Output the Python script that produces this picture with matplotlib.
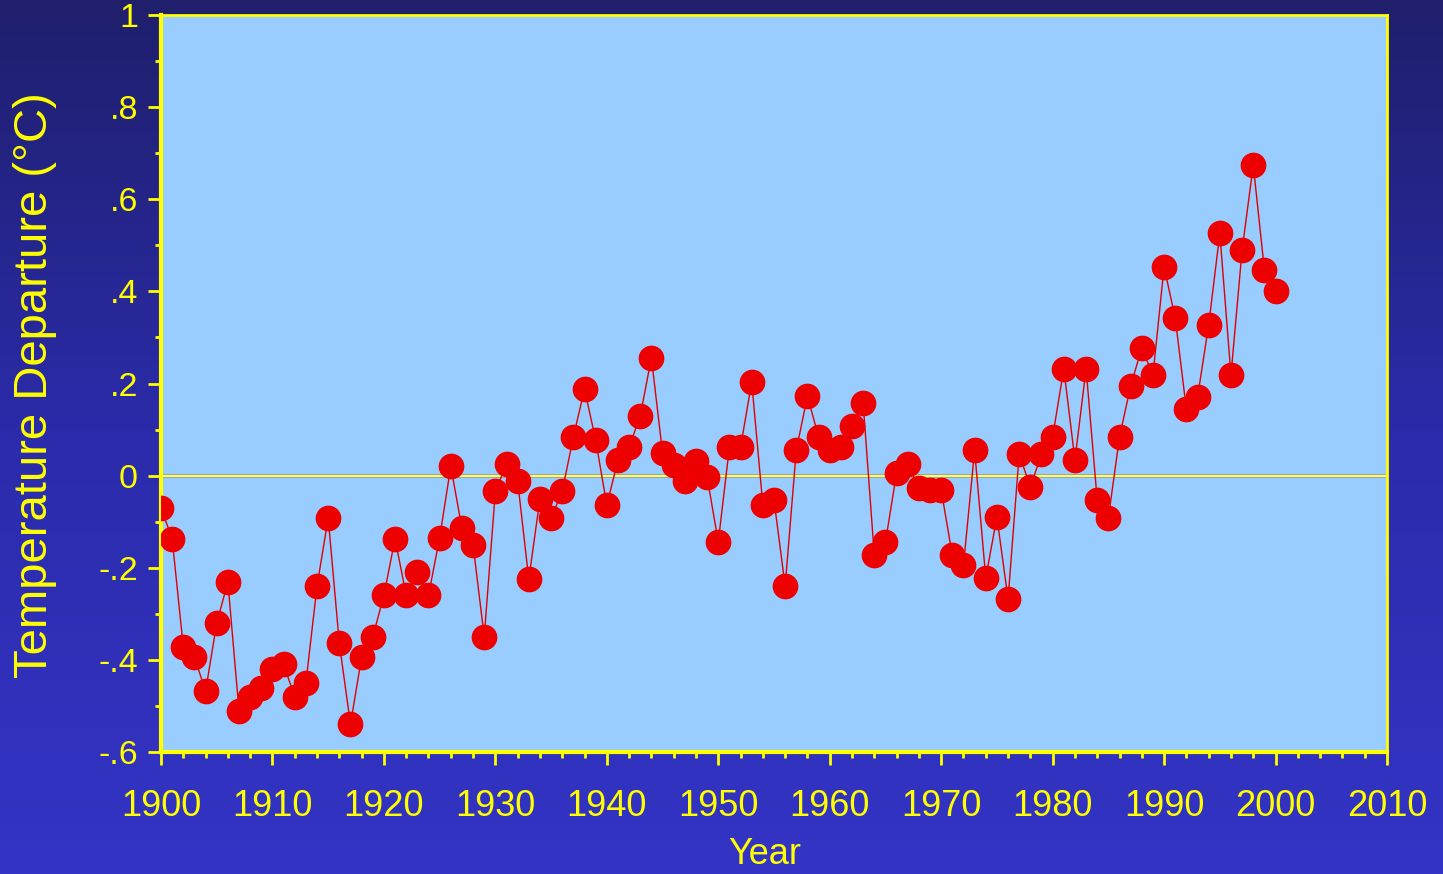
import numpy as np
import matplotlib
matplotlib.use("Agg")
import matplotlib.pyplot as plt
from matplotlib.colors import LinearSegmentedColormap
from matplotlib.ticker import MultipleLocator, FixedLocator

plt.rcParams["font.family"] = ["Liberation Sans", "DejaVu Sans"]

years = np.arange(1900, 2001)
departure = [
    -0.07, -0.137, -0.372, -0.394, -0.468, -0.32, -0.231, -0.511, -0.48, -0.46,
    -0.42, -0.41, -0.48, -0.45, -0.24, -0.092, -0.364, -0.54, -0.394, -0.35,
    -0.26, -0.137, -0.26, -0.21, -0.26, -0.135, 0.02, -0.114, -0.15, -0.35,
    -0.034, 0.025, -0.012, -0.225, -0.05, -0.092, -0.034, 0.084, 0.188, 0.077,
    -0.064, 0.034, 0.062, 0.13, 0.256, 0.049, 0.024, -0.012, 0.031, -0.003,
    -0.144, 0.062, 0.062, 0.203, -0.064, -0.053, -0.24, 0.055, 0.173, 0.084,
    0.055, 0.062, 0.108, 0.157, -0.173, -0.144, 0.006, 0.025, -0.027, -0.031,
    -0.031, -0.173, -0.195, 0.055, -0.222, -0.09, -0.268, 0.047, -0.025, 0.047,
    0.084, 0.232, 0.034, 0.232, -0.053, -0.092, 0.084, 0.195, 0.277, 0.218,
    0.453, 0.342, 0.144, 0.17, 0.327, 0.526, 0.218, 0.49, 0.674, 0.447,
    0.401,
]
ytick_vals = [-0.6, -0.4, -0.2, 0, 0.2, 0.4, 0.6, 0.8, 1.0]
ytick_labels = ["-.6", "-.4", "-.2", "0", ".2", ".4", ".6", ".8", "1"]
xtick_vals = list(range(1900, 2011, 10))

yellow = "#ffff00"

fig = plt.figure(figsize=(14.43, 8.74), dpi=100)

# background gradient
bg = fig.add_axes([0, 0, 1, 1], zorder=-10)
cmap = LinearSegmentedColormap.from_list("bg", ["#1f1f6c", "#2b2bab", "#3434c6"])
grad = np.linspace(0, 1, 256).reshape(-1, 1)
bg.imshow(grad, aspect="auto", cmap=cmap, extent=[0, 1, 0, 1], origin="upper")
bg.axis("off")

ax = fig.add_axes([161 / 1443, 1 - 752 / 874, 1226 / 1443, 737 / 874])
ax.set_facecolor("#99ccff")

ax.axhline(0, color="#a0a080", lw=2.6, zorder=1)
ax.axhline(0, color="#ffff66", lw=1.4, zorder=1)
ax.plot(years, departure, color="#e00000", lw=1, zorder=2)
ax.plot(years, departure, "o", color="#ee0000", markersize=17.5, zorder=3)

ax.set_xlim(1900, 2010)
ax.set_ylim(-0.6, 1.0)

ax.xaxis.set_major_locator(FixedLocator(xtick_vals))
ax.xaxis.set_minor_locator(MultipleLocator(2))
ax.yaxis.set_major_locator(FixedLocator(ytick_vals))
ax.yaxis.set_minor_locator(MultipleLocator(0.1))
ax.set_yticklabels(ytick_labels)

for s in ["left", "bottom"]:
    ax.spines[s].set_color(yellow)
    ax.spines[s].set_linewidth(3)
for s in ["top", "right"]:
    ax.spines[s].set_color(yellow)
    ax.spines[s].set_linewidth(2)

ax.tick_params(which="major", length=9.5, width=2, color=yellow, labelcolor=yellow)
ax.tick_params(which="minor", length=4.5, width=2, color=yellow)
ax.tick_params(axis="x", which="major", labelsize=26, pad=17)
ax.tick_params(axis="y", which="major", labelsize=24.5, pad=7)

fig.text(35 / 1443, 1 - 385 / 874, "Temperature Departure (°C)", rotation=90,
         ha="center", va="center", color=yellow, fontsize=34)
fig.text(765 / 1443, 2 / 874, "Year", ha="center", va="bottom",
         color=yellow, fontsize=26)

fig.savefig("out.png", dpi=100)
